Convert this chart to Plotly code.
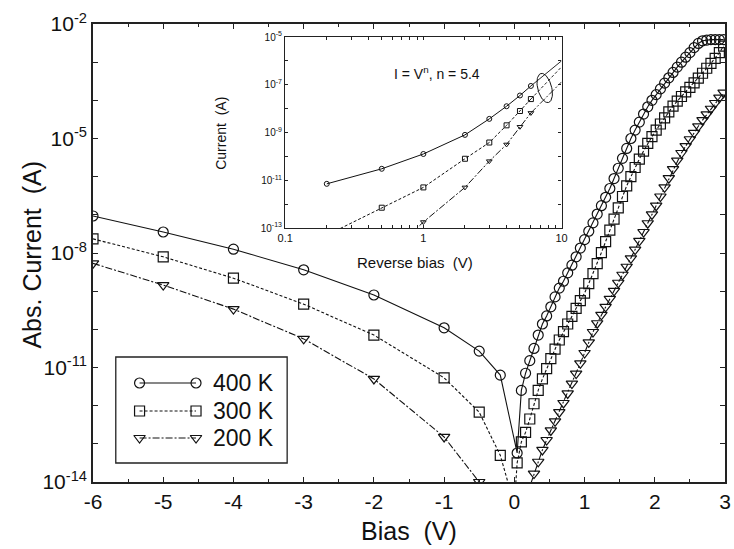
import math
import plotly.graph_objects as go

# ---------------- data ----------------
# Reverse-bias sweep (V) and log10 of |I| in A
bias_rev_400k = [-6, -5, -4, -3, -2, -1, -0.5, -0.2]
log_i_rev_400k = [-7.03, -7.45, -7.9, -8.44, -9.1, -9.96, -10.57, -11.2]
bias_rev_300k = [-6, -5, -4, -3, -2, -1, -0.5, -0.2, 0.0]
log_i_rev_300k = [-7.63, -8.1, -8.66, -9.34, -10.15, -11.27, -12.17, -13.3, -14.6]
bias_rev_200k = [-6, -5, -4, -3, -2, -1, -0.5, -0.2]
log_i_rev_200k = [-8.27, -8.84, -9.47, -10.25, -11.3, -12.82, -14.0, -15.5]

# Forward-bias sweep (V)
bias_fwd = [0.04, 0.10, 0.16, 0.22, 0.28, 0.34, 0.40, 0.46, 0.52, 0.58,
            0.64, 0.70, 0.76, 0.82, 0.88, 0.94, 1.00, 1.06, 1.12, 1.18,
            1.24, 1.30, 1.36, 1.42, 1.48, 1.54, 1.60, 1.66, 1.72, 1.78,
            1.84, 1.90, 1.96, 2.02, 2.08, 2.14, 2.20, 2.26, 2.32, 2.38,
            2.44, 2.50, 2.56, 2.62, 2.68, 2.74, 2.80, 2.86, 2.92, 2.98]
log_i_fwd_400k = [-13.24, -11.6, -11.15, -10.82, -10.5, -10.15, -9.86, -9.65, -9.41, -9.15,
                  -8.92, -8.74, -8.52, -8.32, -8.1, -7.87, -7.65, -7.43, -7.21, -6.98,
                  -6.76, -6.54, -6.31, -6.05, -5.78, -5.52, -5.26, -5.0, -4.78, -4.57,
                  -4.36, -4.17, -4.0, -3.85, -3.7, -3.55, -3.41, -3.27, -3.13, -3.0,
                  -2.87, -2.75, -2.62, -2.51, -2.44, -2.42, -2.41, -2.41, -2.41, -2.41]
log_i_fwd_300k = [-13.5, -12.95, -12.7, -12.35, -11.95, -11.6, -11.3, -11.03, -10.77, -10.52,
                  -10.28, -10.06, -9.86, -9.66, -9.45, -9.25, -9.05, -8.8, -8.54, -8.28,
                  -7.99, -7.7, -7.4, -7.11, -6.82, -6.52, -6.24, -6.0, -5.76, -5.54,
                  -5.33, -5.13, -4.95, -4.78, -4.62, -4.46, -4.3, -4.15, -4.02, -3.9,
                  -3.78, -3.66, -3.54, -3.42, -3.29, -3.16, -3.03, -2.9, -2.75, -2.58]
log_i_fwd_200k = [-16.5, -15.6, -14.8, -14.12, -13.78, -13.47, -13.16, -12.9, -12.65, -12.41,
                  -12.17, -11.93, -11.68, -11.42, -11.16, -10.89, -10.62, -10.34, -10.07, -9.84,
                  -9.62, -9.41, -9.2, -8.99, -8.78, -8.57, -8.36, -8.14, -7.91, -7.68,
                  -7.45, -7.22, -6.99, -6.76, -6.52, -6.28, -6.04, -5.8, -5.58, -5.38,
                  -5.2, -5.02, -4.85, -4.68, -4.52, -4.37, -4.22, -4.07, -3.93, -3.8]

# Inset: current vs reverse bias (log-log)
inset_v_400k = [0.2, 0.5, 1, 2, 3, 4, 5, 6]
inset_log_i_400k = [-11.15, -10.52, -9.9, -9.1, -8.43, -7.9, -7.45, -7.05]
inset_v_300k = [0.2, 0.5, 1, 2, 3, 4, 5, 6]
inset_log_i_300k = [-13.3, -12.15, -11.3, -10.1, -9.42, -8.7, -8.1, -7.6]
inset_v_200k = [0.5, 1, 2, 3, 4, 5, 6]
inset_log_i_200k = [-14.4, -12.75, -11.3, -10.2, -9.5, -8.76, -8.18]
# power-law (I = V^n) extension lines
fit_v = [6, 10]
fit_log_i_400k = [-7.05, -6.0]
fit_log_i_300k = [-7.6, -6.25]
fit_log_i_200k = [-8.18, -6.88]

labels = ["400 K", "300 K", "200 K"]
bias_ticks = [-6, -5, -4, -3, -2, -1, 0, 1, 2, 3]
inset_bias_ticks = [0.1, 0.2, 0.3, 0.4, 0.5, 0.6, 0.7, 0.8, 0.9,
                    1, 2, 3, 4, 5, 6, 7, 8, 9, 10]
inset_bias_text = ["0.1", "", "", "", "", "", "", "", "",
                   "1", "", "", "", "", "", "", "", "", "10"]

# ---------------- layout geometry ----------------
W, H = 734, 549
ML, MR, MT, MB = 93, 3, 24, 67
PW, PH = W - ML - MR, H - MT - MB
FONT = "Arial, Liberation Sans, Helvetica, sans-serif"
INK = "#111111"


def fx(px):
    return (px - ML) / PW


def fy(py):
    return (H - MB - py) / PH


def to_amp(logs):
    return [10 ** v for v in logs]


styles = [
    dict(symbol="circle-open", dash="solid"),
    dict(symbol="square-open", dash="3px,2px"),
    dict(symbol="triangle-down-open", dash="7px,2px,2px,2px"),
]

fig = go.Figure()

# main curves
main_sets = [
    (bias_rev_400k, log_i_rev_400k, log_i_fwd_400k),
    (bias_rev_300k, log_i_rev_300k, log_i_fwd_300k),
    (bias_rev_200k, log_i_rev_200k, log_i_fwd_200k),
]
for (xr, yr, yf), st, name in zip(main_sets, styles, labels):
    fig.add_trace(go.Scatter(
        x=xr + bias_fwd, y=to_amp(yr + yf), name=name, mode="lines+markers",
        line=dict(color=INK, width=1.1, dash=st["dash"]),
        marker=dict(symbol=st["symbol"], size=10, color=INK, line=dict(width=1.2, color=INK)),
        xaxis="x", yaxis="y", showlegend=False,
    ))

# inset curves
inset_sets = [
    (inset_v_400k, inset_log_i_400k, fit_log_i_400k),
    (inset_v_300k, inset_log_i_300k, fit_log_i_300k),
    (inset_v_200k, inset_log_i_200k, fit_log_i_200k),
]
for (xv, yv, yfit), st in zip(inset_sets, styles):
    fig.add_trace(go.Scatter(
        x=xv, y=to_amp(yv), mode="lines+markers",
        line=dict(color=INK, width=1.0, dash=st["dash"]),
        marker=dict(symbol=st["symbol"], size=5, color=INK, line=dict(width=1, color=INK)),
        xaxis="x2", yaxis="y2", showlegend=False,
    ))
    fig.add_trace(go.Scatter(
        x=fit_v, y=to_amp(yfit), mode="lines",
        line=dict(color=INK, width=0.9, dash=st["dash"]),
        xaxis="x2", yaxis="y2", showlegend=False,
    ))

# hand-made legend drawn in plot-fraction coordinates (x3/y3 overlay)
rows_py = [383, 411, 438]
for st, py in zip(styles, rows_py):
    fig.add_trace(go.Scatter(
        x=[fx(140), fx(197)], y=[fy(py), fy(py)], mode="lines+markers",
        line=dict(color=INK, width=1.1, dash=st["dash"]),
        marker=dict(symbol=st["symbol"], size=10, color=INK, line=dict(width=1.2, color=INK)),
        xaxis="x3", yaxis="y3", showlegend=False, hoverinfo="skip",
    ))

# ellipse marking the power-law region in the inset
cx, cy, ra, rb, tilt = 549, 88, 15, 7, math.radians(75)
ex, ey = [], []
for k in range(61):
    t = 2 * math.pi * k / 60
    dx = ra * math.cos(t)
    dy = rb * math.sin(t)
    px = cx + dx * math.cos(tilt) - dy * math.sin(tilt)
    py = cy + dx * math.sin(tilt) + dy * math.cos(tilt)
    ex.append(fx(px))
    ey.append(fy(py))
fig.add_trace(go.Scatter(
    x=ex, y=ey, mode="lines", line=dict(color=INK, width=1.0),
    xaxis="x3", yaxis="y3", showlegend=False, hoverinfo="skip",
))

# ---------------- axes ----------------
main_ticks = [10.0 ** e for e in range(-14, -1)]
main_text = [f"10<sup>{e}</sup>" if e in (-14, -11, -8, -5, -2) else "" for e in range(-14, -1)]

inset_ticks = [10.0 ** e for e in range(-13, -4)]
inset_text = [f"10<sup>{e}</sup>" if e in (-13, -11, -9, -7, -5) else "" for e in range(-13, -4)]

axis_common = dict(showline=True, linecolor="#222222", mirror="ticks", ticks="inside",
                   tickcolor="#222222", showgrid=False, zeroline=False)

fig.update_layout(
    width=W, height=H,
    margin=dict(l=ML, r=MR, t=MT, b=MB, pad=0),
    paper_bgcolor="white", plot_bgcolor="rgba(0,0,0,0)",
    font=dict(family=FONT, color=INK),
    xaxis=dict(**axis_common, domain=[0, 1], range=[-6, 3],
               tickvals=bias_ticks, ticktext=[str(v) for v in bias_ticks],
               ticklen=5, tickwidth=1.2, linewidth=1.6,
               minor=dict(dtick=0.5, tick0=0, ticks="inside", ticklen=3, tickcolor="#222222"),
               tickfont=dict(size=21, family=FONT), anchor="y"),
    yaxis=dict(**axis_common, domain=[0, 1], type="log", range=[-14, -2],
               tickvals=main_ticks, ticktext=main_text,
               ticklen=5, tickwidth=1.2, linewidth=1.6,
               tickfont=dict(size=21, family=FONT), anchor="x"),
    xaxis2=dict(**axis_common, domain=[fx(287), fx(566)], type="log", range=[-1, 1],
                tickvals=inset_bias_ticks, ticktext=inset_bias_text,
                ticklen=3, tickwidth=1, linewidth=1.4,
                tickfont=dict(size=11, family=FONT), anchor="y2"),
    yaxis2=dict(**axis_common, domain=[fy(228), fy(37)], type="log", range=[-13, -5],
                tickvals=inset_ticks, ticktext=inset_text,
                ticklen=3, tickwidth=1, linewidth=1.4,
                tickfont=dict(size=10, family=FONT), anchor="x2"),
    xaxis3=dict(overlaying="x", range=[0, 1], visible=False, fixedrange=True, anchor="y3"),
    yaxis3=dict(overlaying="y", range=[0, 1], visible=False, fixedrange=True, anchor="x3"),
    showlegend=False,
)

# legend frame
fig.add_shape(type="rect", xref="paper", yref="paper",
              x0=fx(116), x1=fx(289), y0=fy(463), y1=fy(357),
              line=dict(color="#222222", width=1.3), fillcolor="rgba(0,0,0,0)")

annotations = []
for name, py in zip(labels, rows_py):
    annotations.append(dict(text=name, x=fx(212), y=fy(py), xanchor="left", yanchor="middle",
                            font=dict(size=23)))
annotations += [
    dict(text="Bias&nbsp;&nbsp;(V)", x=fx(412), y=fy(531), xanchor="center", yanchor="middle",
         font=dict(size=25)),
    dict(text="Abs. Current&nbsp;&nbsp;(A)", x=fx(31), y=fy(255), xanchor="center",
         yanchor="middle", textangle=-90, font=dict(size=25)),
    dict(text="Reverse bias&nbsp;&nbsp;(V)", x=fx(418), y=fy(262), xanchor="center",
         yanchor="middle", font=dict(size=15)),
    dict(text="Current&nbsp;&nbsp;(A)", x=fx(222), y=fy(133), xanchor="center",
         yanchor="middle", textangle=-90, font=dict(size=14)),
    dict(text="I = V<sup>n</sup>, n = 5.4", x=fx(440), y=fy(73), xanchor="center",
         yanchor="middle", font=dict(size=14)),
]
for a in annotations:
    a.update(xref="paper", yref="paper", showarrow=False)
fig.update_layout(annotations=annotations)

fig.write_html("out.html")
